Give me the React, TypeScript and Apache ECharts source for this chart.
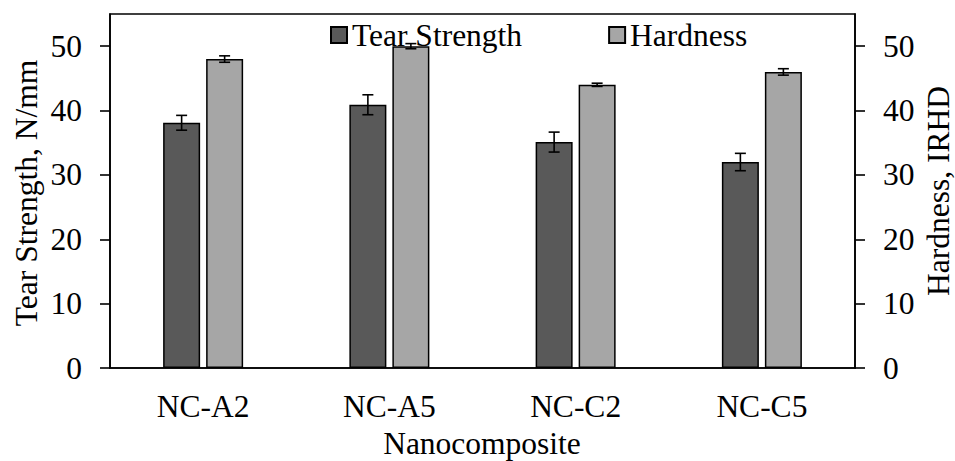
import React, { useEffect, useRef } from "react";
import * as echarts from "echarts";

// Nanocomposite samples on the category axis
const categories = ["NC-A2", "NC-A5", "NC-C2", "NC-C5"];
// Tear strength (N/mm) with standard deviation
const tearStrength = [38.1, 40.9, 35.1, 32.0];
const tearErr = [1.15, 1.55, 1.55, 1.35];
// Hardness (IRHD) with standard deviation
const hardness = [48.0, 50.0, 44.0, 46.0];
const hardnessErr = [0.5, 0.4, 0.25, 0.5];
// Labelled tick values on both value axes
const yTicks = [0, 10, 20, 30, 40, 50];

const FONT = '"Times New Roman", "Liberation Serif", serif';
const FS = 31.5;
const BAR_W = 37;
const BAR_GAP = 6;
const CAP = 11;

function errorSeries(values: number[], errs: number[], offset: number, yAxisIndex: number) {
  return {
    type: "custom",
    yAxisIndex,
    silent: true,
    z: 5,
    encode: { x: 0, y: 1 },
    data: values.map((v, i) => [i, v, errs[i]]),
    renderItem: (_params: any, api: any) => {
      const idx = api.value(0);
      const v = api.value(1);
      const e = api.value(2);
      const top = api.coord([idx, v + e]);
      const bot = api.coord([idx, v - e]);
      const x = top[0] + offset;
      const style = { stroke: "#000", lineWidth: 1.6 };
      return {
        type: "group",
        children: [
          { type: "line", shape: { x1: x, y1: top[1], x2: x, y2: bot[1] }, style },
          { type: "line", shape: { x1: x - CAP / 2, y1: top[1], x2: x + CAP / 2, y2: top[1] }, style },
          { type: "line", shape: { x1: x - CAP / 2, y1: bot[1], x2: x + CAP / 2, y2: bot[1] }, style },
        ],
      };
    },
  };
}

function valueAxis(position: "left" | "right") {
  return {
    type: "value",
    position,
    min: 0,
    max: 55,
    interval: 10,
    splitLine: { show: false },
    axisLine: { show: true, lineStyle: { color: "#000", width: 1.6 } },
    axisTick: {
      show: true,
      inside: false,
      length: 10,
      lineStyle: { color: "#000", width: 1.6 },
      customValues: yTicks,
    },
    axisLabel: {
      color: "#000",
      fontFamily: FONT,
      fontSize: FS,
      margin: 28,
      customValues: yTicks,
    },
  };
}

export default function App() {
  const ref = useRef<HTMLDivElement>(null);

  useEffect(() => {
    if (!ref.current) return;
    const chart = echarts.init(ref.current, null, { renderer: "svg" });
    const half = (BAR_W + BAR_GAP) / 2;
    chart.setOption({
      animation: false,
      backgroundColor: "#fff",
      grid: {
        left: 110,
        right: 100,
        top: 14,
        bottom: 93,
        show: true,
        borderColor: "#000",
        borderWidth: 1.6,
        backgroundColor: "transparent",
      },
      legend: {
        top: 14,
        left: 325,
        icon: "rect",
        itemWidth: 16,
        itemHeight: 16,
        itemGap: 86,
        data: ["Tear Strength", "Hardness"],
        textStyle: { color: "#000", fontFamily: FONT, fontSize: FS },
      },
      xAxis: {
        type: "category",
        data: categories,
        axisLine: { show: true, lineStyle: { color: "#000", width: 1.6 } },
        axisTick: { show: false },
        axisLabel: { color: "#000", fontFamily: FONT, fontSize: FS, margin: 22 },
      },
      yAxis: [valueAxis("left"), valueAxis("right")],
      graphic: [
        {
          type: "text",
          x: 26,
          y: 193,
          rotation: Math.PI / 2,
          style: {
            text: "Tear Strength, N/mm",
            fill: "#000",
            font: `${FS}px ${FONT}`,
            textAlign: "center",
            textVerticalAlign: "middle",
          },
        },
        {
          type: "text",
          x: 938,
          y: 191,
          rotation: Math.PI / 2,
          style: {
            text: "Hardness, IRHD",
            fill: "#000",
            font: `${FS}px ${FONT}`,
            textAlign: "center",
            textVerticalAlign: "middle",
          },
        },
        {
          type: "text",
          x: 482,
          y: 443,
          style: {
            text: "Nanocomposite",
            fill: "#000",
            font: `${FS}px ${FONT}`,
            textAlign: "center",
            textVerticalAlign: "middle",
          },
        },
      ],
      series: [
        {
          name: "Tear Strength",
          type: "bar",
          yAxisIndex: 0,
          data: tearStrength,
          barWidth: BAR_W,
          barGap: `${(BAR_GAP / BAR_W) * 100}%`,
          itemStyle: { color: "#595959", borderColor: "#000", borderWidth: 1.5 },
        },
        {
          name: "Hardness",
          type: "bar",
          yAxisIndex: 1,
          data: hardness,
          barWidth: BAR_W,
          itemStyle: { color: "#a6a6a6", borderColor: "#000", borderWidth: 1.5 },
        },
        errorSeries(tearStrength, tearErr, -half, 0),
        errorSeries(hardness, hardnessErr, half, 1),
      ],
    });
    return () => chart.dispose();
  }, []);

  return (
    <div
      ref={ref}
      style={{ position: "fixed", left: 0, top: 0, width: 955, height: 461 }}
    />
  );
}
